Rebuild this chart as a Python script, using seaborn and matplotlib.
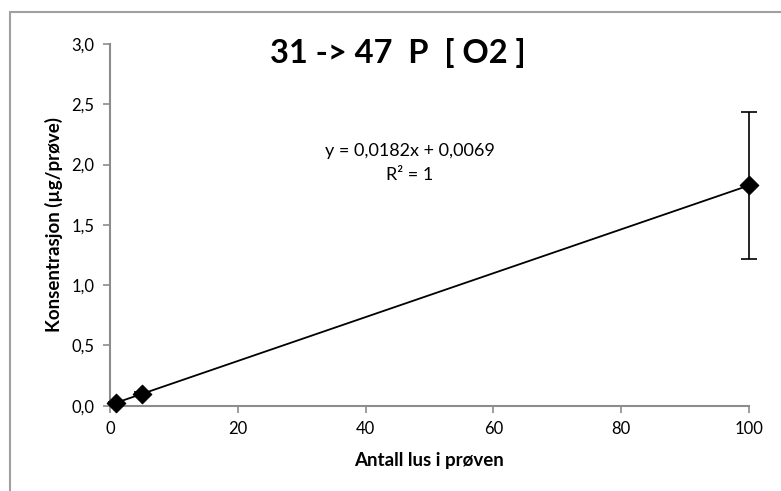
import numpy as np
import pandas as pd
import seaborn as sns
import matplotlib.pyplot as plt
from matplotlib.lines import Line2D

# data
antall_lus = [1, 5, 100]
konsentrasjon = [0.025, 0.098, 1.827]
feil = [0.005, 0.015, 0.612]

# Excel trendline
slope = 0.0182
intercept = 0.0069
trend_x = [1, 100]

x_ticks = [0, 20, 40, 60, 80, 100]
y_ticks = [0.0, 0.5, 1.0, 1.5, 2.0, 2.5, 3.0]

sns.set_theme(style="white")
plt.rcParams['font.family'] = ['Lato', 'DejaVu Sans']
plt.rcParams['text.color'] = 'black'
plt.rcParams['axes.labelcolor'] = 'black'
plt.rcParams['xtick.labelcolor'] = 'black'
plt.rcParams['ytick.labelcolor'] = 'black'

df = pd.DataFrame({'x': antall_lus, 'y': konsentrasjon, 'err': feil})
trend = pd.DataFrame({'x': trend_x})
trend['y'] = slope * trend['x'] + intercept

fig = plt.figure(figsize=(7.81, 4.91), dpi=100)
ax = fig.add_axes([0.1408, 0.1737, 0.8182, 0.7367])

# outer chart frame (only left and top edges visible)
fig.add_artist(Line2D([10 / 781, 10 / 781], [0, 1 - 12 / 491], color='#a0a0a0', lw=1.5))
fig.add_artist(Line2D([10 / 781, 1], [1 - 12 / 491, 1 - 12 / 491], color='#a0a0a0', lw=1.5))

sns.lineplot(data=trend, x='x', y='y', color='black', lw=1.3, ax=ax)
ax.errorbar(df['x'], df['y'], yerr=df['err'], fmt='none', ecolor='black',
            elinewidth=1.2, capsize=6, capthick=1.2, clip_on=False)
sns.scatterplot(data=df, x='x', y='y', marker='D', s=90, color='black',
                edgecolor='black', ax=ax, zorder=5, clip_on=False)

ax.set_xlim(0, 100)
ax.set_ylim(0, 3.0)
ax.set_xticks(x_ticks)
ax.set_yticks(y_ticks)
ax.set_yticklabels([f'{v:.1f}'.replace('.', ',') for v in y_ticks])
ax.tick_params(axis='both', labelsize=12, length=5, width=1.2, color='#8c8c8c',
               labelcolor='black', direction='out', bottom=True, left=True, pad=6)

for side in ['top', 'right']:
    ax.spines[side].set_visible(False)
for side in ['left', 'bottom']:
    ax.spines[side].set_color('#8c8c8c')
    ax.spines[side].set_linewidth(1.5)

ax.set_xlabel('Antall lus i prøven', fontsize=13.5, fontweight='bold', labelpad=11)
ax.set_ylabel('Konsentrasjon (µg/prøve)', fontsize=13.5, fontweight='bold', labelpad=6)

fig.text(398 / 781, 1 - 53 / 491, '31 -> 47  P  [ O2 ]', fontsize=23.5,
         fontweight='bold', ha='center', va='center', color='black')
fig.text(410 / 781, 1 - 151 / 491, 'y = 0,0182x + 0,0069', fontsize=13,
         ha='center', va='center', color='black')
fig.text(410 / 781, 1 - 175 / 491, 'R² = 1', fontsize=13, ha='center', va='center',
         color='black')

fig.savefig('out.png', dpi=100)
